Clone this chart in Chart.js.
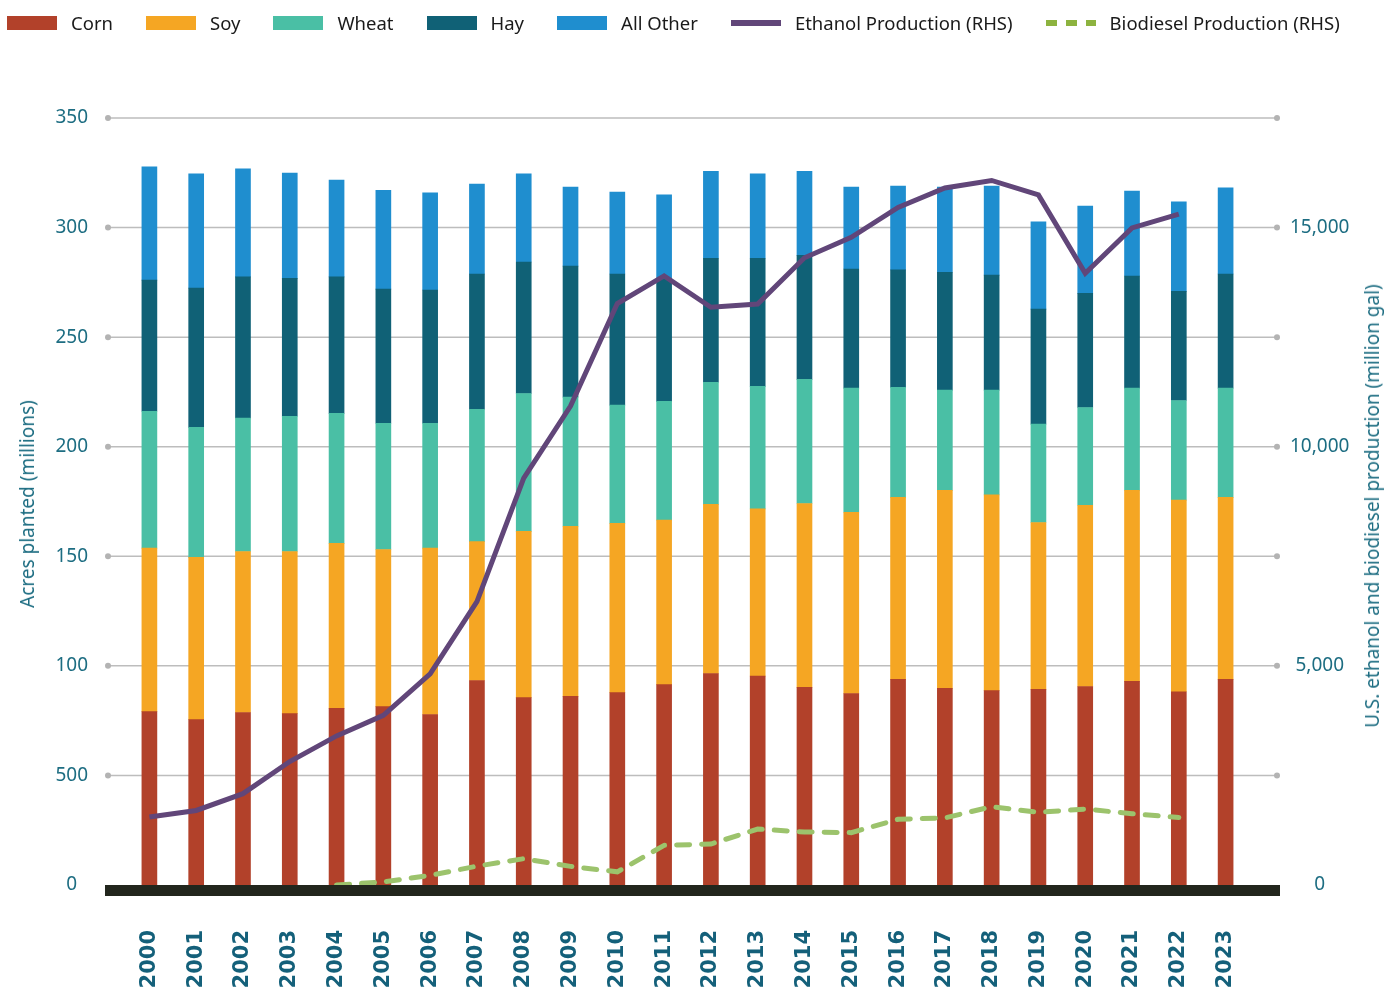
<!DOCTYPE html>
<html>
<head>
<meta charset="utf-8">
<script src="https://cdn.jsdelivr.net/npm/chart.js@4.4.1/dist/chart.umd.min.js"></script>
<style>
  body { margin: 0; background: #fff; }
  #wrap { position: relative; width: 1400px; height: 988px; }
  #legend { position: absolute; left: 7px; top: 10px; display: flex; align-items: center;
            font-family: "Noto Sans", sans-serif; font-size: 18.5px; color: #1a1a1a; }
  #legend .item { display: flex; align-items: center; margin-right: 33px; }
  #legend .sw { width: 50px; height: 14px; margin-right: 14px; }
  #legend .ln { height: 6px; }
  .ytitle { position: absolute; white-space: nowrap; font-family: "Noto Sans", sans-serif;
            font-size: 19px; color: #1d6d82; transform: translate(-50%, -50%) rotate(-90deg); }
</style>
</head>
<body>
<div id="wrap">
  <canvas id="chart"></canvas>
  <div id="legend"></div>
  <div class="ytitle" style="left:27px; top:504px;">Acres planted (millions)</div>
  <div class="ytitle" style="left:1372px; top:506px;">U.S. ethanol and biodiesel production (million gal)</div>
</div>
<script>
const years = ["2000","2001","2002","2003","2004","2005","2006","2007","2008","2009","2010","2011",
               "2012","2013","2014","2015","2016","2017","2018","2019","2020","2021","2022","2023"];

const corn  = [79.1, 75.5, 78.7, 78.2, 80.6, 81.4, 77.8, 93.3, 85.5, 86.1, 87.8, 91.4, 96.5, 95.3, 90.2, 87.4, 93.8, 89.7, 88.7, 89.3, 90.6, 92.9, 88.2, 93.8];
const soy   = [74.6, 74.0, 73.5, 74.0, 75.3, 71.7, 75.9, 63.4, 75.9, 77.6, 77.2, 75.1, 77.2, 76.3, 83.9, 82.7, 83.1, 90.4, 89.3, 76.1, 82.7, 87.2, 87.4, 83.1];
const wheat = [62.5, 59.3, 60.9, 61.7, 59.3, 57.6, 57.0, 60.4, 62.9, 58.9, 54.0, 54.2, 55.7, 55.9, 56.6, 56.6, 50.2, 45.7, 47.8, 44.9, 44.6, 46.6, 45.5, 49.8];
const hay   = [59.8, 63.6, 64.4, 62.9, 62.3, 61.2, 60.8, 61.7, 60.0, 59.8, 59.8, 55.9, 56.6, 58.5, 56.6, 54.4, 53.6, 53.8, 52.5, 52.5, 52.1, 51.2, 49.8, 52.1];
const allOther = [51.7, 52.1, 49.3, 48.1, 44.2, 45.1, 44.3, 41.0, 40.2, 36.1, 37.4, 38.3, 39.7, 38.5, 38.4, 37.4, 38.2, 38.9, 40.6, 39.8, 39.8, 38.7, 40.8, 39.3];

const ethanol   = [1552, 1701, 2084, 2817, 3402, 3870, 4816, 6464, 9281, 10929, 13268, 13896, 13183, 13257, 14310, 14778, 15458, 15905, 16075, 15745, 13959, 14991, 15309, null];
const biodiesel = [null, null, null, null, 0, 70, 220, 430, 600, 425, 300, 904, 935, 1276, 1210, 1195, 1499, 1531, 1786, 1658, 1733, 1626, 1541, null];

const leftTickLabels  = ["0", "500", "100", "150", "200", "250", "300", "350"];
const rightTickLabels = ["0", "", "5,000", "", "10,000", "", "15,000", ""];

const colors = {
  corn: "#b2412a", soy: "#f5a623", wheat: "#4abfa5", hay: "#106176", other: "#1f8ecf",
  ethanol: "#614679", biodiesel: "#9cc36c", biodieselKey: "#8db33f"
};
const tickColor = "#1d6d82";

// legend (html)
const legendItems = [
  { label: "Corn", color: colors.corn, kind: "box" },
  { label: "Soy", color: colors.soy, kind: "box" },
  { label: "Wheat", color: colors.wheat, kind: "box" },
  { label: "Hay", color: colors.hay, kind: "box" },
  { label: "All Other", color: colors.other, kind: "box" },
  { label: "Ethanol Production (RHS)", color: colors.ethanol, kind: "line" },
  { label: "Biodiesel Production (RHS)", color: colors.biodieselKey, kind: "dash" }
];
const legend = document.getElementById("legend");
legendItems.forEach(it => {
  const item = document.createElement("div");
  item.className = "item";
  const sw = document.createElement("span");
  sw.className = "sw";
  if (it.kind === "box") sw.style.background = it.color;
  else {
    sw.classList.add("ln");
    sw.style.background = it.kind === "line" ? it.color
      : `repeating-linear-gradient(90deg, ${it.color} 0 11px, transparent 11px 20px)`;
  }
  const tx = document.createElement("span");
  tx.textContent = it.label;
  item.appendChild(sw); item.appendChild(tx);
  legend.appendChild(item);
});

// dotted-end gridlines + thick base bar
const gridPlugin = {
  id: "dotGrid",
  beforeDatasetsDraw(chart) {
    const ctx = chart.ctx, y = chart.scales.y, area = chart.chartArea;
    const x0 = area.left - 18, x1 = area.right + 28;
    ctx.save();
    y.ticks.forEach(t => {
      if (t.value === 0) return;
      const py = y.getPixelForValue(t.value);
      ctx.strokeStyle = "#bdbdbd";
      ctx.lineWidth = 1.5;
      ctx.beginPath(); ctx.moveTo(x0, py); ctx.lineTo(x1, py); ctx.stroke();
      ctx.fillStyle = "#b3b3b3";
      [x0, x1].forEach(px => { ctx.beginPath(); ctx.arc(px, py, 3, 0, Math.PI * 2); ctx.fill(); });
    });
    ctx.restore();
  },
  afterDatasetsDraw(chart) {
    const ctx = chart.ctx, y = chart.scales.y, area = chart.chartArea;
    const py = y.getPixelForValue(0);
    ctx.save();
    ctx.fillStyle = "#22261d";
    ctx.fillRect(area.left - 21, py, area.right - area.left + 52, 11);
    ctx.restore();
  }
};

const barSet = (label, data, color) => ({
  type: "bar", label, data, backgroundColor: color, yAxisID: "y",
  barThickness: 15, order: 2, stack: "acres"
});

new Chart(document.getElementById("chart"), {
  data: {
    labels: years,
    datasets: [
      {
        type: "line", label: "Ethanol Production (RHS)", data: ethanol, yAxisID: "y2",
        borderColor: colors.ethanol, borderWidth: 5, pointRadius: 0, tension: 0, order: 0,
        borderJoinStyle: "miter"
      },
      {
        type: "line", label: "Biodiesel Production (RHS)", data: biodiesel, yAxisID: "y2",
        borderColor: colors.biodiesel, borderWidth: 5, borderDash: [13, 12], borderCapStyle: "round",
        pointRadius: 0, tension: 0, order: 1
      },
      barSet("Corn", corn, colors.corn),
      barSet("Soy", soy, colors.soy),
      barSet("Wheat", wheat, colors.wheat),
      barSet("Hay", hay, colors.hay),
      barSet("All Other", allOther, colors.other)
    ]
  },
  options: {
    responsive: true,
    maintainAspectRatio: false,
    animation: false,
    layout: { padding: { top: 118, left: 0, right: 0, bottom: 0 } },
    plugins: { legend: { display: false }, tooltip: { enabled: false } },
    scales: {
      x: {
        stacked: true,
        grid: { display: false, drawTicks: false },
        border: { display: false },
        ticks: {
          color: "#14607a", autoSkip: false, minRotation: 90, maxRotation: 90, padding: 45,
          font: { family: "DejaVu Sans", weight: "bold", size: 21 }
        },
        afterFit(s) { s.height = 103; }
      },
      y: {
        position: "left", stacked: true, min: 0, max: 350,
        grid: { display: false, drawTicks: false },
        border: { display: false },
        ticks: {
          stepSize: 50, color: tickColor, padding: 38, crossAlign: "center",
          font: { family: "Noto Sans", size: 19 },
          callback: (v, i) => leftTickLabels[i]
        },
        afterFit(s) { s.width = 126; }
      },
      y2: {
        position: "right", min: 0, max: 17500,
        grid: { display: false, drawTicks: false },
        border: { display: false },
        ticks: {
          stepSize: 2500, color: tickColor, padding: 41, crossAlign: "center",
          font: { family: "Noto Sans", size: 19 },
          callback: (v, i) => rightTickLabels[i]
        },
        afterFit(s) { s.width = 151; }
      }
    }
  },
  plugins: [gridPlugin]
});
</script>
</body>
</html>
